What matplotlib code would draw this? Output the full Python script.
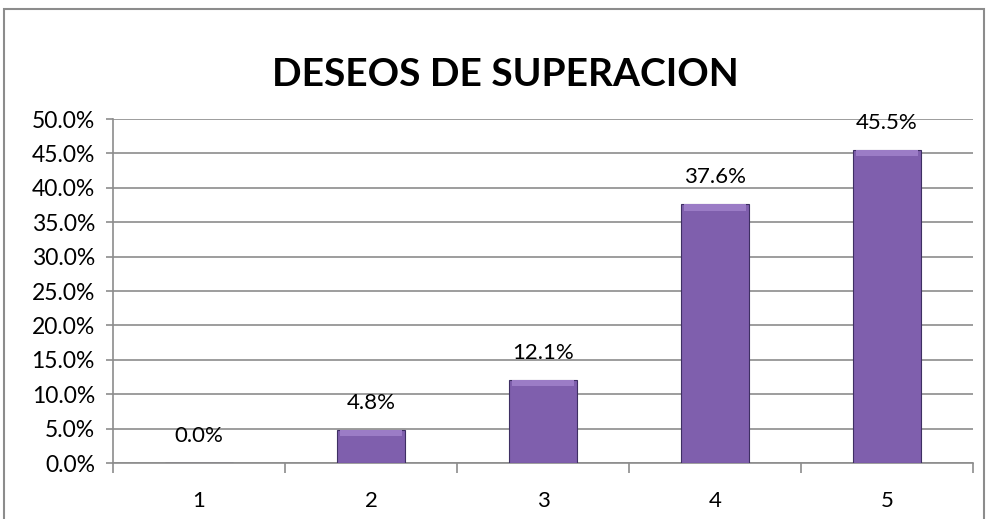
import matplotlib
matplotlib.use("Agg")
import matplotlib.pyplot as plt
from matplotlib.patches import Rectangle
from matplotlib.ticker import MultipleLocator, FuncFormatter

categories = ["1", "2", "3", "4", "5"]
values = [0.0, 4.8, 12.1, 37.6, 45.5]
title = "DESEOS DE SUPERACION"

plt.rcParams['font.family'] = ['Lato', 'DejaVu Sans']

W, H = 986, 519
fig = plt.figure(figsize=(W/100, H/100), dpi=100)
fig.patch.set_facecolor('white')

# outer chart border
fig.add_artist(Rectangle((4/W, -0.05), (984-4)/W, 1.05 - 9/H, transform=fig.transFigure,
                         fill=False, edgecolor='#8c8c8c', linewidth=1.5))

left, right, top, bottom = 113, 973, 119, 463
ax = fig.add_axes([left/W, 1 - bottom/H, (right-left)/W, (bottom-top)/H])

x = list(range(len(categories)))
bars = ax.bar(x, values, width=0.4, color='#7F5FAD', edgecolor='#3E2F63', linewidth=0.8, zorder=3)
# subtle bevel highlight on top of each bar
ax.bar(x, [min(v, 0.9) for v in values], bottom=[max(v - 0.9, 0) for v in values],
       width=0.36, color='#9B7CC6', linewidth=0, zorder=4)

ax.set_xlim(-0.5, len(categories)-0.5)
ax.set_ylim(0, 50)
ax.yaxis.set_major_locator(MultipleLocator(5))
ax.yaxis.set_major_formatter(FuncFormatter(lambda v, p: f"{v:.1f}%"))
ax.set_xticks(x)
ax.set_xticklabels(categories)
ax.set_xticks([i - 0.5 for i in range(len(categories)+1)], minor=True)
ax.tick_params(axis='x', which='major', length=0, pad=20, labelsize=16)
ax.tick_params(axis='x', which='minor', length=7, color='#8c8c8c', width=1.2, direction='out')
ax.tick_params(axis='y', length=5, color='#8c8c8c', width=1.2, pad=8, labelsize=16.5)

ax.grid(axis='y', color='#8c8c8c', linewidth=1.2, zorder=0)
for s in ['top', 'right']:
    ax.spines[s].set_visible(False)
for s in ['left', 'bottom']:
    ax.spines[s].set_color('#8c8c8c')
    ax.spines[s].set_linewidth(1.2)

for xi, v in zip(x, values):
    ax.annotate(f"{v:.1f}%", (xi, v), xytext=(0, 27), textcoords='offset pixels',
                ha='center', va='center', fontsize=16, color='black')

fig.text(505/W, 1 - 75/H, title, ha='center', va='center', fontsize=28, fontweight='bold')

fig.savefig('out.png', dpi=100, facecolor='white')
